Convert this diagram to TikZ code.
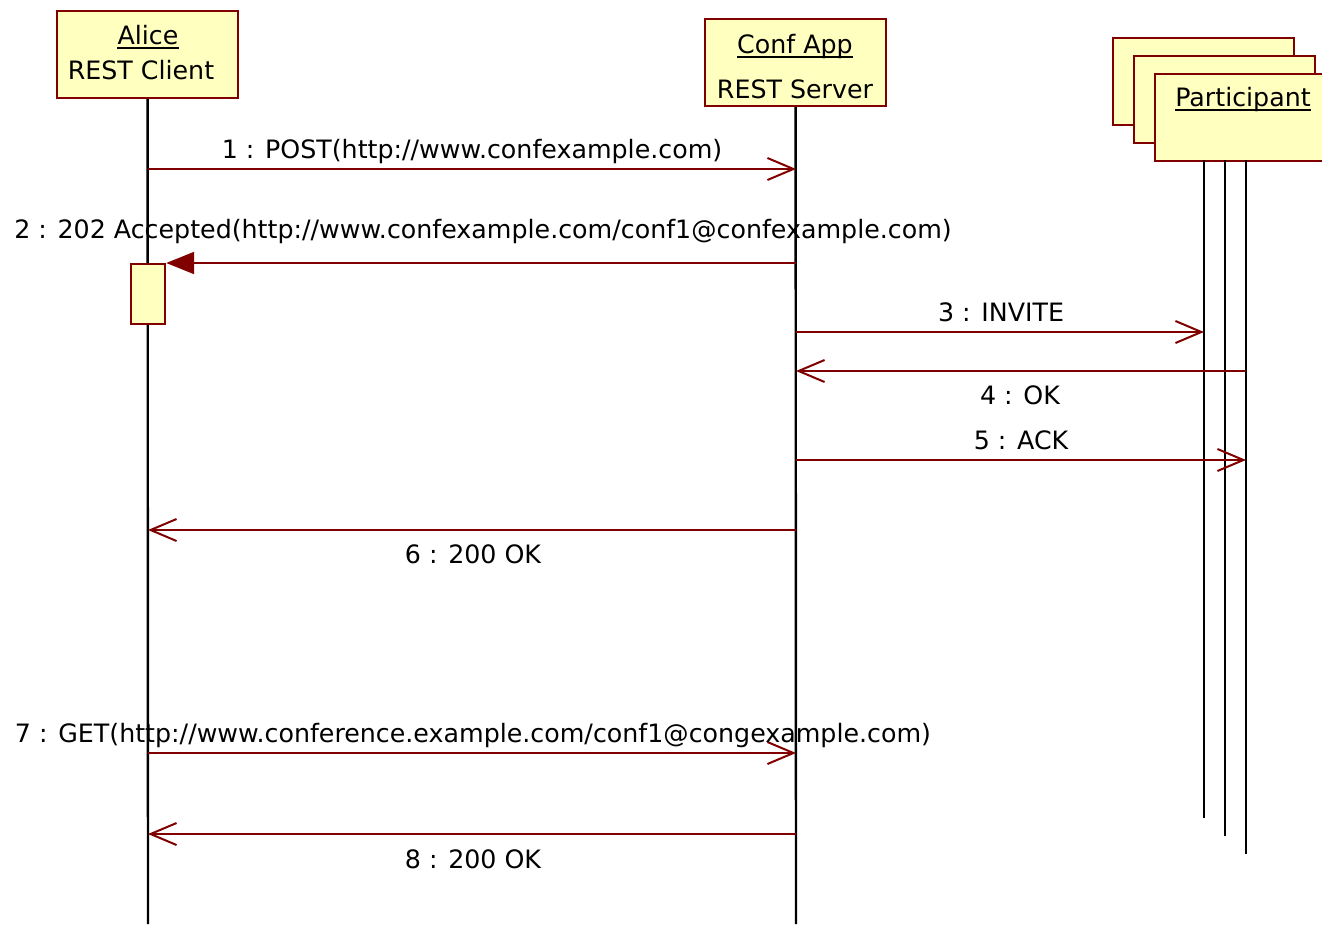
\documentclass[tikz,border=0pt]{standalone}
\usepackage{fontspec}
\setmainfont{DejaVu Sans}
\usetikzlibrary{arrows.meta}
\definecolor{msg}{RGB}{128,0,0}
\definecolor{boxfill}{RGB}{255,255,192}
\begin{document}
\begin{tikzpicture}[x=1pt,y=-1pt,
 obj/.style={draw=msg, fill=boxfill, line width=2.2pt, minimum width=181pt, minimum height=87pt, anchor=north west, inner sep=0pt},
 act/.style={draw=msg, fill=boxfill, line width=2.2pt, minimum width=34pt, minimum height=60pt, anchor=north west, inner sep=0pt},
 life/.style={line width=2.4pt, black},
 call/.style={draw=msg, line width=2pt, -{Straight Barb[length=26pt,width=22pt,line width=2pt]}},
 sync/.style={draw=msg, line width=2pt, -{Triangle[length=28pt,width=22pt]}},
 lbl/.style={font=\fontsize{25.3}{30}\selectfont, inner sep=0pt, anchor=base},
 uline/.style={line width=2pt, black}]
\useasboundingbox (0,0) rectangle (1322,924);
% objects
\node[obj] (alice) at (56,10) {};
\node[obj] (conf) at (704,18) {};
\node[obj] (p1) at (1112,37) {};
\node[obj] (p2) at (1133,55) {};
\node[obj] (p3) at (1154,73) {};
\node[lbl] (alicet) at (148,44) {Alice};
\node[lbl] (alices) at (141,79) {REST Client};
\node[lbl] (conft) at (795,53) {Conf App};
\node[lbl] (confs) at (795,98) {REST Server};
\node[lbl] (pt) at (1243,106) {Participant};
\foreach \n in {alicet,conft,pt}
  \draw[uline] ([yshift=-4pt]\n.base west) -- ([yshift=-4pt]\n.base east);
% lifeline ends
\coordinate (aend) at (148,924);
\coordinate (cend) at (796,924);
\coordinate (l1top) at (1204,160);
\coordinate (l1end) at (1204,818);
\coordinate (l2top) at (1225,160);
\coordinate (l2end) at (1225,836);
\coordinate (l3top) at (1246,160);
\coordinate (l3end) at (1246,854);
\draw[life] (alice.south) -- (aend);
\draw[life] (conf.south) -- (cend);
\draw[life] (l1top) -- (l1end);
\draw[life] (l2top) -- (l2end);
\draw[life] (l3top) -- (l3end);
% activation
\node[act] (actv) at (130,263) {};
% message points
\coordinate (a1) at (148,169); \coordinate (c1) at (796,169);
\coordinate (c2) at (796,263);
\coordinate (c3) at (796,332); \coordinate (p3a) at (1204,332);
\coordinate (p4) at (1246,371); \coordinate (c4) at (796,371);
\coordinate (c5) at (796,460); \coordinate (p5) at (1246,460);
\coordinate (c6) at (796,530); \coordinate (a6) at (148,530);
\coordinate (a7) at (148,753); \coordinate (c7) at (796,753);
\coordinate (c8) at (796,834); \coordinate (a8) at (148,834);
\draw[call] (a1) -- (c1);
\draw[sync] (c2) -- (actv.north east);
\draw[call] (c3) -- (p3a);
\draw[call] (p4) -- (c4);
\draw[call] (c5) -- (p5);
\draw[call] (c6) -- (a6);
\draw[call] (a7) -- (c7);
\draw[call] (c8) -- (a8);
% labels
\node[lbl] (m1) at (472,158) {1 : POST(http://www.confexample.com)};
\node[lbl] (m2) at (483,238) {2 : 202 Accepted(http://www.confexample.com/conf1@confexample.com)};
\node[lbl] (m3) at (1001,321) {3 : INVITE};
\node[lbl] (m4) at (1020,404) {4 : OK};
\node[lbl] (m5) at (1021,449) {5 : ACK};
\node[lbl] (m6) at (473,563) {6 : 200 OK};
\node[lbl] (m7) at (473,742) {7 : GET(http://www.conference.example.com/conf1@congexample.com)};
\node[lbl] (m8) at (473,868) {8 : 200 OK};
\end{tikzpicture}
\end{document}
